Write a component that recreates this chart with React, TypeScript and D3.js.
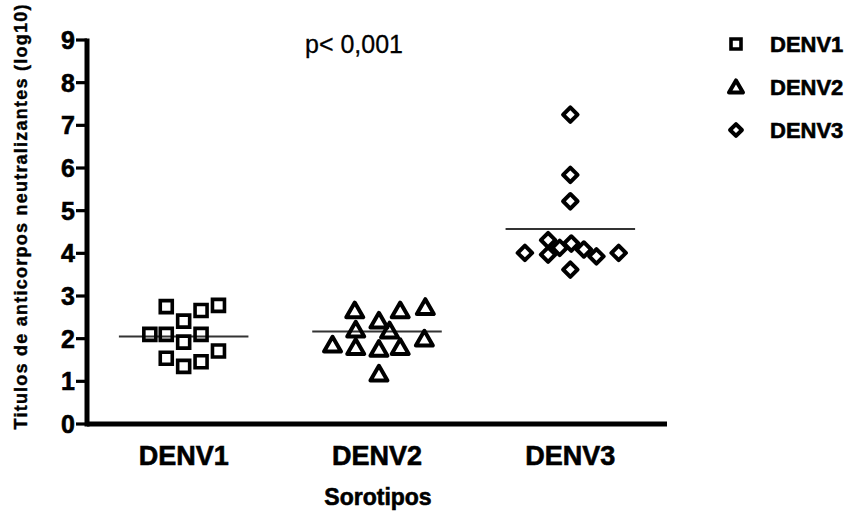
import React from 'react';
import * as d3 from 'd3';

// serotype groups on the x axis
const serotypes = ['DENV1', 'DENV2', 'DENV3'];

// neutralizing antibody titres (log10)
const denv1Values = [2.75, 2.41, 2.66, 2.78, 2.10, 2.10, 1.92, 2.10, 1.54, 1.35, 1.46, 1.71];
const denv2Values = [2.65, 2.65, 2.73, 2.41, 2.20, 2.18, 1.85, 1.79, 1.75, 1.79, 1.99, 1.17];
const denv3Values = [7.25, 5.84, 5.22, 4.01, 4.31, 3.97, 4.13, 4.23, 4.09, 3.93, 4.01, 3.62];

// horizontal scatter of each point inside its group (-1..1 = one band)
const denv1Jitter = [-0.18, 0, 0.18, 0.36, -0.35, -0.18, 0, 0.18, -0.18, 0, 0.18, 0.36];
const denv2Jitter = [-0.23, 0.24, 0.5, 0.02, -0.22, 0.13, -0.46, -0.22, 0.02, 0.24, 0.49, 0.02];
const denv3Jitter = [0, 0, 0, -0.47, -0.23, -0.23, -0.11, 0.01, 0.14, 0.27, 0.5, 0];

// group means (horizontal lines)
const means = [2.05, 2.17, 4.57];

const yTicks = [0, 1, 2, 3, 4, 5, 6, 7, 8, 9];

const W = 861;
const H = 514;
const font = "'Liberation Sans', Arial, sans-serif";

const groups = [
  { name: serotypes[0], values: denv1Values, jitter: denv1Jitter, shape: 'square' },
  { name: serotypes[1], values: denv2Values, jitter: denv2Jitter, shape: 'triangle' },
  { name: serotypes[2], values: denv3Values, jitter: denv3Jitter, shape: 'diamond' },
];

const symbolPath = (shape: string, big: boolean) => {
  if (shape === 'square') return d3.symbol(d3.symbolSquare, big ? 144 : 100)()!;
  if (shape === 'triangle') return d3.symbol(d3.symbolTriangle, big ? 125 : 85)()!;
  return d3.symbol(d3.symbolSquare, big ? 105 : 70)()!;
};

const Marker = ({ shape, x, y, big }: { shape: string; x: number; y: number; big: boolean }) => {
  const rot = shape === 'diamond' ? ' rotate(45)' : '';
  const dy = shape === 'triangle' ? 1.5 : 0;
  return (
    <path
      d={symbolPath(shape, big)}
      transform={`translate(${x},${y + dy})${rot}`}
      fill="none"
      stroke="#000"
      strokeWidth={shape === 'square' ? 3.6 : 4}
      strokeLinejoin={shape === 'square' ? 'miter' : 'round'}
    />
  );
};

// bold text with a thin outline, to get the heavy look of the original
const heavy = { fontWeight: 'bold', stroke: '#000', strokeWidth: 0.6 } as const;

const App = () => {
  const x0 = 87;
  const x1 = 667;
  const y = d3.scaleLinear().domain([0, 9]).range([424, 40]);
  const x = d3.scaleBand().domain(serotypes).range([x0, x1]);
  const half = x.step() / 2;
  const jitter = d3.scaleLinear().domain([-1, 1]).range([-half, half]);
  const cx = (name: string) => (x(name) as number) + x.bandwidth() / 2;

  return (
    <svg
      width={W}
      height={H}
      style={{ position: 'absolute', left: 0, top: 0, background: '#fff' }}
      fontFamily={font}
    >
      {/* y axis */}
      <line x1={x0} x2={x0} y1={y(9) - 1.5} y2={y(0) + 2.5} stroke="#000" strokeWidth={5} />
      {yTicks.map(t => (
        <g key={t}>
          <line x1={x0 - 11} x2={x0} y1={y(t)} y2={y(t)} stroke="#000" strokeWidth={3.2} />
          <text x={x0 - 12} y={y(t)} dy="0.36em" textAnchor="end" fontSize={25} {...heavy}>
            {t}
          </text>
        </g>
      ))}
      {/* x axis */}
      <line x1={x0} x2={x1} y1={y(0)} y2={y(0)} stroke="#000" strokeWidth={5} />
      {serotypes.map(s => (
        <text key={s} x={cx(s)} y={465} textAnchor="middle" fontSize={27} {...heavy}>
          {s}
        </text>
      ))}
      <text x={378} y={505} textAnchor="middle" fontSize={23} {...heavy}>
        Sorotipos
      </text>
      <text
        transform={`translate(27,${217}) rotate(-90)`}
        textAnchor="middle"
        fontSize={18}
        textLength={425}
        lengthAdjust="spacing"
        {...heavy}
        strokeWidth={0.4}
      >
        Titulos de anticorpos neutralizantes (log10)
      </text>

      {/* mean lines */}
      {groups.map((g, i) => (
        <line
          key={g.name}
          x1={cx(g.name) + jitter(-0.67)}
          x2={cx(g.name) + jitter(0.67)}
          y1={y(means[i])}
          y2={y(means[i])}
          stroke="#333"
          strokeWidth={2}
        />
      ))}

      {/* points */}
      {groups.map(g =>
        g.values.map((v, j) => (
          <Marker key={g.name + j} shape={g.shape} x={cx(g.name) + jitter(g.jitter[j])} y={y(v)} big />
        ))
      )}

      <text x={305} y={53} fontSize={25} stroke="#000" strokeWidth={0.3}>
        p&lt; 0,001
      </text>

      {/* legend */}
      {groups.map((g, i) => (
        <g key={g.name} transform={`translate(736,${44 + i * 43})`}>
          <Marker shape={g.shape} x={0} y={0} big={false} />
          <text x={34} y={0} dy="0.36em" fontSize={22} {...heavy}>
            {g.name}
          </text>
        </g>
      ))}
    </svg>
  );
};

export default App;
